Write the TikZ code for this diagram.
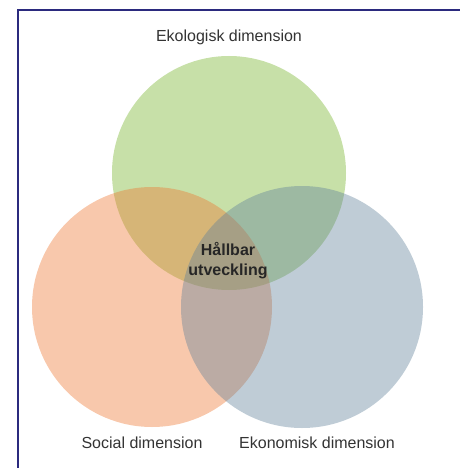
\documentclass[tikz,border=0pt]{standalone}
\usepackage{fontspec}
\setmainfont{Liberation Sans}
\definecolor{ekogreen}{RGB}{115,178,37}
\definecolor{socorange}{RGB}{237,118,48}
\definecolor{ekonblue}{RGB}{95,128,153}
\definecolor{framenavy}{RGB}{43,42,126}
\definecolor{labelgray}{RGB}{51,51,51}
\tikzset{dim/.style={circle,inner sep=0pt,fill opacity=0.4},
  dimlabel/.style={text=labelgray,font=\fontsize{16}{19}\selectfont}}
\begin{document}
\begin{tikzpicture}[x=1pt,y=-1pt]
\useasboundingbox (0,0) rectangle (460,468);
\draw [framenavy,line width=1.5pt] (18,468) -- (18,10) -- (460,10);
\node (eko) at (229,173) [dim,fill=ekogreen,minimum size=234pt] {};
\node (soc) at (152,307) [dim,fill=socorange,minimum size=240pt] {};
\node (ekon) at (302,307) [dim,fill=ekonblue,minimum size=242pt] {};
\node (ekotext) at (229,37) [dimlabel] {Ekologisk dimension};
\node (soctext) at (142,443) [dimlabel] {Social dimension};
\node (ekontext) at (317,443) [dimlabel] {Ekonomisk dimension};
\node (mitt) at (228,261) [dimlabel,align=center,font=\fontsize{16}{20}\selectfont\bfseries,text=black!85] {Hållbar\\utveckling};
\end{tikzpicture}
\end{document}
